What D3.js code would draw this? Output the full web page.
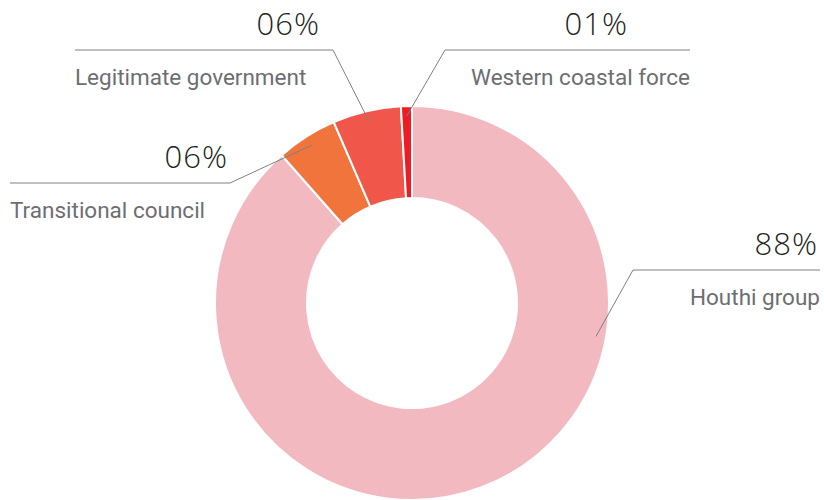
<!DOCTYPE html>
<html>
<head>
<meta charset="utf-8">
<script src="https://cdn.jsdelivr.net/npm/d3@7"></script>
<style>
  body { margin: 0; background: #fff; }
  svg { display: block; }
</style>
</head>
<body>
<svg width="824" height="500"></svg>
<script>
// data (clockwise from 12 o'clock)
const groups = ['Houthi group', 'Transitional council', 'Legitimate government', 'Western coastal force']
const shares = [88.5, 5.0, 5.6, 0.9]
// the printed labels, as they appear on the chart
const pctLabels = ['88%', '06%', '06%', '01%']
const colors = ['#f3b9c1', '#f0743b', '#f0574a', '#ed1c24']

const cx = 412, cy = 303
const outerR = 197, innerR = 105

const svg = d3.select('svg')

const pie = d3.pie().sort(null).value(d => d.value)
const arcs = pie(groups.map((g, i) => ({ name: g, value: shares[i], label: pctLabels[i], color: colors[i] })))

const arc = d3.arc().innerRadius(innerR).outerRadius(outerR)

const g = svg.append('g').attr('transform', `translate(${cx},${cy})`)

g.selectAll('path')
  .data(arcs)
  .enter()
  .append('path')
  .attr('d', arc)
  .attr('fill', d => d.data.color)
  .attr('stroke', '#fff')
  .attr('stroke-width', 2)

// callout layout: line from x1 to x2 at y, elbow on the chart side
// angle = where the pointer hits the ring (radians, clockwise from top), null = slice middle
const layout = {
  'Houthi group':          { angle: 1.75, x1: 633, x2: 820, y: 270, anchor: 'end',   pctX: 818 },
  'Transitional council':  { angle: null, x1: 10,  x2: 230, y: 183, anchor: 'start', pctX: 228 },
  'Legitimate government': { angle: null, x1: 75,  x2: 333, y: 50,  anchor: 'start', pctX: 320 },
  'Western coastal force': { angle: null, x1: 445, x2: 690, y: 50,  anchor: 'end',   pctX: 628 }
}

const pointR = 187

arcs.forEach(d => {
  const l = layout[d.data.name]
  const a = l.angle != null ? l.angle : (d.startAngle + d.endAngle) / 2
  const px = cx + pointR * Math.sin(a)
  const py = cy - pointR * Math.cos(a)
  const ex = l.anchor === 'end' ? l.x1 : l.x2
  const sx = l.anchor === 'end' ? l.x2 : l.x1

  svg.append('polyline')
    .attr('points', [[sx, l.y], [ex, l.y], [px, py]].map(p => p.join(',')).join(' '))
    .attr('fill', 'none')
    .attr('stroke', '#808080')
    .attr('stroke-width', 1)

  svg.append('text')
    .attr('x', l.pctX)
    .attr('y', l.y - 15)
    .attr('text-anchor', 'end')
    .attr('font-family', '"Open Sans", sans-serif')
    .attr('font-weight', 300)
    .attr('font-size', 31)
    .attr('letter-spacing', 1)
    .attr('fill', '#231f20')
    .text(d.data.label)

  svg.append('text')
    .attr('x', sx)
    .attr('y', l.y + 35)
    .attr('text-anchor', l.anchor)
    .attr('font-family', 'Roboto, sans-serif')
    .attr('font-size', 22.5)
    .attr('fill', '#6d6e71')
    .text(d.data.name)
})
</script>
</body>
</html>
